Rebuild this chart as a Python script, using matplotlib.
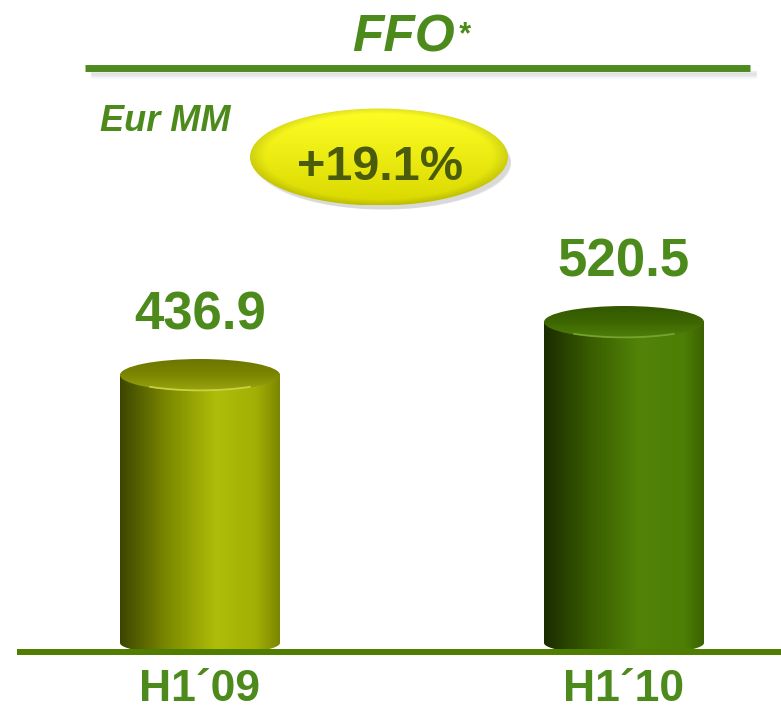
import numpy as np
import matplotlib.pyplot as plt
from matplotlib.patches import Ellipse, Polygon, Arc
from matplotlib.colors import LinearSegmentedColormap

categories = ["H1\u00b409", "H1\u00b410"]
values = [436.9, 520.5]
change_label = "+19.1%"
unit_label = "Eur MM"
title = "FFO"

W, H = 781, 711
scale = 0.634   # px per unit
base = 59       # baseline, px from bottom

plt.rcParams['font.family'] = ['Liberation Sans', 'DejaVu Sans']
green = '#4d8a1c'

fig = plt.figure(figsize=(W / 100, H / 100), dpi=100)
ax = fig.add_axes([0, 0, 1, 1])
ax.axis('off')

body_cmaps = [
    LinearSegmentedColormap.from_list('b1', [(0, '#3c4600'), (0.3, '#7d8a00'), (0.6, '#aebc0a'),
                                             (0.85, '#a2b005'), (1, '#7c8600')]),
    LinearSegmentedColormap.from_list('b2', [(0, '#1a2c00'), (0.3, '#3a5e00'), (0.6, '#538409'),
                                             (0.88, '#4d7e05'), (1, '#3b6200')]),
]
top_cmaps = [
    LinearSegmentedColormap.from_list('t1', ['#9aa610', '#7c8600', '#6c7600']),
    LinearSegmentedColormap.from_list('t2', ['#4f800c', '#3d6600', '#335800']),
]
rim_cols = ['#d6de50', '#7fae38']

xcs = [200, 624]
hw = 80
ry = 16 / scale
rb = 12 / scale

grad = np.linspace(0, 1, 256).reshape(1, -1)
for i, v in enumerate(values):
    xc = xcs[i]
    t = np.linspace(np.pi, 2 * np.pi, 40)
    pts = [(xc - hw, v)]
    pts += list(zip(xc + hw * np.cos(t), rb - 3 / scale + rb * np.sin(t)))
    pts += [(xc + hw, v)]
    body = Polygon(pts, closed=True, fc='none', ec='none')
    ax.add_patch(body)
    im = ax.imshow(grad, cmap=body_cmaps[i], extent=(xc - hw, xc + hw, -10, v + 1),
                   aspect='auto', origin='lower', interpolation='bicubic', zorder=2)
    im.set_clip_path(body)

    top = Ellipse((xc, v), 2 * hw, 2 * ry, fc='none', ec='none', zorder=3)
    ax.add_patch(top)
    vg = np.linspace(0, 1, 128).reshape(-1, 1)
    im2 = ax.imshow(vg, cmap=top_cmaps[i], extent=(xc - hw, xc + hw, v - ry, v + ry),
                    aspect='auto', origin='lower', interpolation='bicubic', zorder=3)
    im2.set_clip_path(top)
    ax.add_patch(Arc((xc, v), 2 * hw - 4, 2 * ry - 2, theta1=200, theta2=340,
                     color=rim_cols[i], lw=1.3, alpha=0.8, zorder=4))

    ax.annotate(f"{v}", (xc, v), xytext=(0, 33), textcoords='offset points',
                ha='center', va='baseline', fontsize=38, fontweight='bold', color=green)
    ax.text(xc, (10 - base) / scale, categories[i], ha='center', va='baseline',
            fontsize=32, fontweight='bold', color=green)

ax.set_xlim(0, W)
ax.set_ylim(-base / scale, (H - base) / scale)

# decorations in pixel coordinates
deco = fig.add_axes([0, 0, 1, 1])
deco.set_xlim(0, W)
deco.set_ylim(H, 0)
deco.axis('off')
deco.set_facecolor('none')

for k, a in enumerate([0.10, 0.08, 0.06, 0.04]):
    deco.plot([92, 755], [72 + k * 1.6, 72 + k * 1.6], color='#555555', lw=2.5, alpha=a,
              solid_capstyle='round')
deco.plot([85, 750], [68, 68], color='#4e8a20', lw=5, solid_capstyle='butt')
deco.plot([17, W], [652, 652], color='#4f7d00', lw=4.3, solid_capstyle='butt')

deco.text(455, 52, title, ha='right', va='baseline', fontsize=37, fontweight='bold',
          fontstyle='italic', color=green)
deco.text(458, 43, '*', ha='left', va='baseline', fontsize=22, fontweight='bold',
          fontstyle='italic', color=green)
deco.text(165, 131, unit_label, ha='center', va='baseline', fontsize=26, fontweight='bold',
          fontstyle='italic', color=green)

# badge
bx, by, bw, bh = 379, 157, 258, 97
for k in range(4):
    deco.add_patch(Ellipse((bx + 3 + k, by + 4 + k), bw - 2 * k, bh - 2 * k, fc='#444444',
                           ec='none', alpha=0.05, zorder=1))
badge = Ellipse((bx, by), bw, bh, fc='none', ec='none', zorder=2)
deco.add_patch(badge)
nx, ny = 400, 160
U, V = np.meshgrid(np.linspace(-1, 1, nx), np.linspace(-1, 1, ny))
R = np.sqrt(U ** 2 + V ** 2)
topc = np.array([1.0, 1.0, 0.15])
botc = np.array([0.85, 0.85, 0.0])
tt = ((V + 1) / 2)[..., None]
img = topc * (1 - tt) + botc * tt
edge = np.clip((R - 0.88) / 0.12, 0, 1)[..., None]
img = img * (1 - 0.12 * edge)
bim = deco.imshow(img, extent=(bx - bw / 2, bx + bw / 2, by + bh / 2, by - bh / 2),
                  aspect='auto', origin='upper', interpolation='bicubic', zorder=2)
bim.set_clip_path(badge)
deco.text(bx + 1, 180, change_label, ha='center', va='baseline', fontsize=35,
          fontweight='bold', color='#4a5c0c', zorder=3)

deco.set_xlim(0, W)
deco.set_ylim(H, 0)

fig.savefig('out.png', dpi=100)
